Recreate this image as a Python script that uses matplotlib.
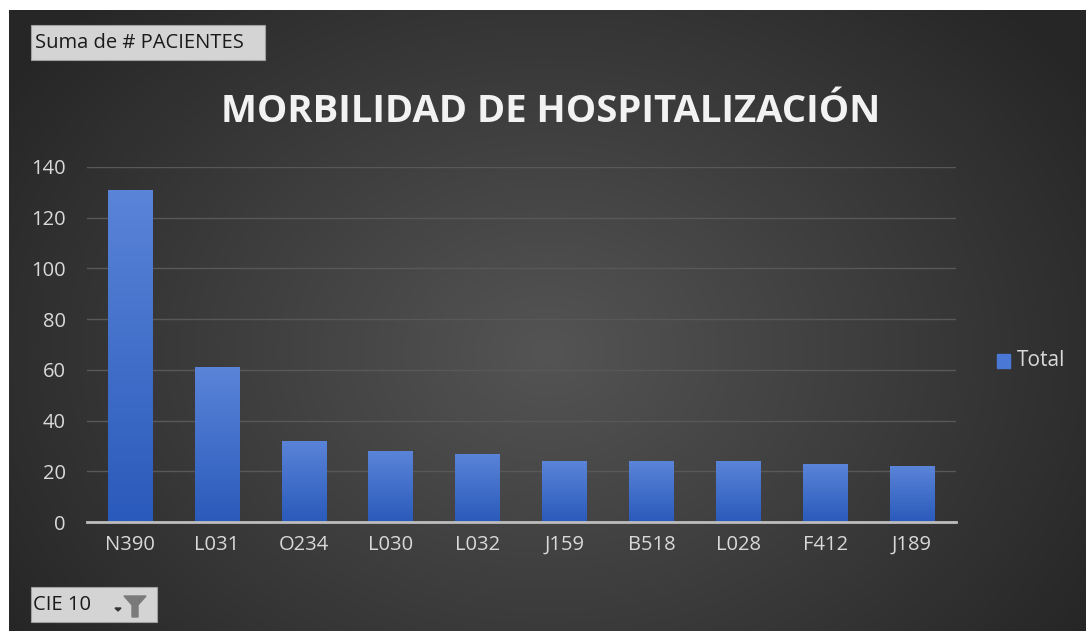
import numpy as np
import matplotlib.pyplot as plt
from matplotlib.patches import Rectangle, Polygon

codigos = ['N390', 'L031', 'O234', 'L030', 'L032', 'J159', 'B518', 'L028', 'F412', 'J189']
pacientes = [131, 61, 32, 28, 27, 24, 24, 24, 23, 22]
y_ticks = [0, 20, 40, 60, 80, 100, 120, 140]

plt.rcParams['font.family'] = ['Open Sans', 'DejaVu Sans']

W, H = 1086, 631
fig = plt.figure(figsize=(W / 100, H / 100), dpi=100)
fig.patch.set_facecolor('white')

# dark radial background (white strip top and left like the screenshot)
bg = fig.add_axes([9 / W, 0, 1 - 9 / W, (H - 10) / H])
bg.set_axis_off()
yy, xx = np.mgrid[0:1:300j, 0:1:500j]
r = np.sqrt(((xx - 0.5) / 0.6) ** 2 + ((yy - 0.55) / 0.8) ** 2)
shade = 0.33 - 0.18 * np.clip(r, 0, 1)
bg.imshow(np.dstack([shade, shade, shade]), aspect='auto', extent=[0, 1, 0, 1])
bg.set_xlim(0, 1)
bg.set_ylim(0, 1)

ax = fig.add_axes([86.5 / W, (H - 522) / H, 869 / W, 355 / H])
ax.set_facecolor('none')
x = np.arange(len(codigos))
bars = ax.bar(x, pacientes, width=0.51, color='#3d6bc9', zorder=3)

# vertical gradient inside each bar
grad = np.linspace(0, 1, 100).reshape(-1, 1)
top = np.array([0x5a, 0x84, 0xd8]) / 255
bot = np.array([0x2a, 0x5a, 0xbb]) / 255
img = top + (bot - top) * grad[..., None]
img = img.reshape(100, 1, 3)
for b in bars:
    im = ax.imshow(img, aspect='auto', zorder=4,
                   extent=[b.get_x(), b.get_x() + b.get_width(), 0, b.get_height()])
    im.set_clip_path(b)

ax.set_xlim(-0.5, len(codigos) - 0.5)
ax.set_ylim(0, 140)
ax.set_yticks(y_ticks)
ax.set_xticks(x)
ax.set_xticklabels(codigos)
ax.grid(axis='y', color='#585858', linewidth=1, zorder=0)
for s in ['top', 'right', 'left']:
    ax.spines[s].set_visible(False)
ax.spines['bottom'].set_color('#bdbdbd')
ax.spines['bottom'].set_linewidth(2)
ax.spines['bottom'].set_zorder(5)
ax.tick_params(length=0, colors='#d9d9d9', labelsize=14.5)
ax.tick_params(axis='y', pad=15)
ax.tick_params(axis='x', pad=9)

fig.text(551 / W, 1 - 112 / H, 'MORBILIDAD DE HOSPITALIZACIÓN', color='#f2f2f2',
         fontsize=27.5, fontweight='bold', ha='center', va='center')

# legend
fig.patches.append(Rectangle((997 / W, 1 - 368 / H), 13 / W, 14 / H,
                             transform=fig.transFigure, color='#4a78d6'))
fig.text(1017 / W, 1 - 361 / H, 'Total', color='#d9d9d9', fontsize=15, va='center')

# field buttons
fig.patches.append(Rectangle((31 / W, 1 - 60 / H), 234 / W, 35 / H,
                             transform=fig.transFigure, facecolor='#d4d4d4',
                             edgecolor='#a0a0a0', linewidth=0.8))
fig.text(35 / W, 1 - 43 / H, 'Suma de # PACIENTES', color='#1a1a1a', fontsize=14.5, va='center')
fig.patches.append(Rectangle((31 / W, 1 - 622 / H), 126 / W, 35 / H,
                             transform=fig.transFigure, facecolor='#d4d4d4',
                             edgecolor='#a0a0a0', linewidth=0.8))
fig.text(33 / W, 1 - 605 / H, 'CIE 10', color='#1a1a1a', fontsize=14.5, va='center')
fig.patches.append(Polygon([(115 / W, 1 - 608 / H), (121 / W, 1 - 608 / H), (118 / W, 1 - 611 / H)],
                           transform=fig.transFigure, color='#333333'))
fig.patches.append(Polygon([(124 / W, 1 - 596 / H), (146 / W, 1 - 596 / H), (138 / W, 1 - 605 / H),
                            (138 / W, 1 - 617 / H), (132 / W, 1 - 617 / H), (132 / W, 1 - 605 / H)],
                           transform=fig.transFigure, color='#7a7a7a'))

fig.savefig('out.png', dpi=100)
